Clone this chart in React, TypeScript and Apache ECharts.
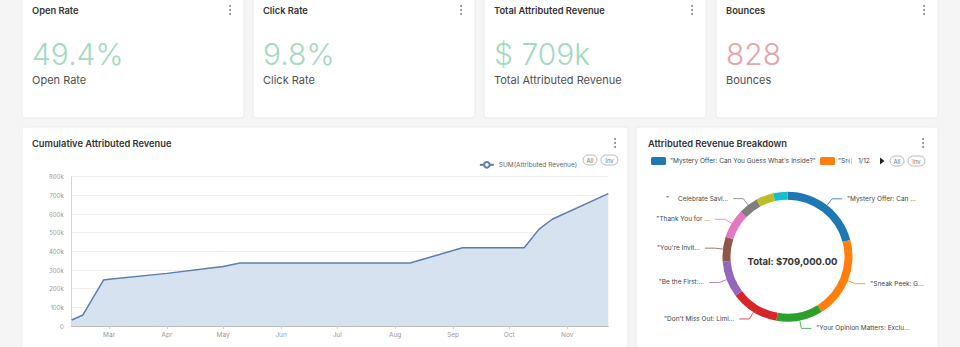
import React, { useEffect, useRef } from "react";
import * as echarts from "echarts";

const kpiTitles = ["Open Rate", "Click Rate", "Total Attributed Revenue", "Bounces"];
const kpiValues = ["49.4%", "9.8%", "$ 709k", "828"];
const kpiLabels = ["Open Rate", "Click Rate", "Total Attributed Revenue", "Bounces"];
const kpiColors = ["#a4d9bf", "#a4d9bf", "#a4d9bf", "#e7a3ab"];

const revenueDates = [
  "2023-02-09", "2023-02-15", "2023-02-26", "2023-03-01", "2023-04-01", "2023-04-20",
  "2023-05-01", "2023-05-10", "2023-08-09", "2023-09-06", "2023-10-09", "2023-10-17",
  "2023-10-24", "2023-11-23",
];
const revenueValues = [
  32000, 59000, 246000, 251000, 282000, 305000, 319000, 338000, 338000, 419000, 419000,
  519000, 572000, 709000,
];
const monthNames = ["Jan", "Feb", "Mar", "Apr", "May", "Jun", "Jul", "Aug", "Sep", "Oct", "Nov", "Dec"];

const campaignNames = [
  "\"Mystery Offer: Can You Guess What's Inside?\"",
  "\"Sneak Peek: Get Ready for Something New\"",
  "\"Your Opinion Matters: Exclusive Survey\"",
  "\"Don't Miss Out: Limited Time Offer\"",
  "\"Be the First: Early Access\"",
  "\"You're Invited: VIP Event\"",
  "\"Thank You for Being With Us\"",
  "\"Celebrate Savings Week\"",
  "\"Weekend Flash Sale\"",
  "\"Last Chance Reminder\"",
];
const campaignLabels = [
  "\"Mystery Offer: Can ...",
  "\"Sneak Peek: G...",
  "\"Your Opinion Matters: Exclu...",
  "\"Don't Miss Out: Limi...",
  "\"Be the First:...",
  "\"You're Invit...",
  "\"Thank You for ...",
  "\"{gap|}Celebrate Savi...",
  "",
  "",
];
const campaignRevenue = [148000, 144000, 82000, 85000, 64000, 44000, 51000, 35000, 31000, 25000];
const campaignColors = [
  "#1f77b4", "#ff7f0e", "#2ca02c", "#d62728", "#9467bd",
  "#8c564b", "#e377c2", "#7f7f7f", "#bcbd22", "#17becf",
];

const FONT = "Inter";

function kebab(x: number, y: number) {
  return [-4, 0, 4].map((d) => ({
    type: "circle",
    z: 10,
    shape: { cx: x, cy: y + d, r: 1 },
    style: { fill: "#8a8a8a" },
  }));
}

function pill(x: number, y: number, w: number, label: string) {
  return [
    {
      type: "rect",
      z: 10,
      shape: { x, y, width: w, height: 10, r: 5 },
      style: { fill: "#fff", stroke: "#a8a8a8", lineWidth: 0.8 },
    },
    {
      type: "text",
      z: 11,
      x: x + w / 2,
      y: y + 5,
      style: { text: label, fontSize: 6, fill: "#777", fontFamily: FONT, align: "center", verticalAlign: "middle" },
    },
  ];
}

export default function App() {
  const ref = useRef<HTMLDivElement>(null);
  useEffect(() => {
    if (!ref.current) return;
    const chart = echarts.init(ref.current, null, { renderer: "svg" });

    const cards = [
      { x: 22, y: -10, w: 222, h: 128 },
      { x: 253, y: -10, w: 222, h: 128 },
      { x: 484, y: -10, w: 222, h: 128 },
      { x: 716, y: -10, w: 222, h: 128 },
      { x: 22, y: 127, w: 606, h: 240 },
      { x: 636, y: 127, w: 302, h: 240 },
    ];
    const elements: any[] = [];
    cards.forEach((c) => {
      elements.push({
        type: "rect",
        z: -10,
        shape: { x: c.x, y: c.y, width: c.w, height: c.h, r: 3 },
        style: { fill: "#ffffff", stroke: "#ececec", lineWidth: 1 },
      });
    });
    kpiTitles.forEach((t, i) => {
      const c = cards[i];
      elements.push({
        type: "text", z: 10, x: c.x + 10, y: 10,
        style: { text: t, fontSize: 9.3, fontWeight: 600, fill: "#333", fontFamily: FONT, verticalAlign: "middle" },
      });
      elements.push({
        type: "text", z: 10, x: c.x + 10, y: 54,
        style: { text: kpiValues[i], fontSize: 30, fontWeight: 300, fill: kpiColors[i], fontFamily: FONT, verticalAlign: "middle" },
      });
      elements.push({
        type: "text", z: 10, x: c.x + 10, y: 80,
        style: { text: kpiLabels[i], fontSize: 11, fill: "#505050", fontFamily: FONT, verticalAlign: "middle" },
      });
      elements.push(...kebab(c.x + 208, 10));
    });
    elements.push({
      type: "text", z: 10, x: 32, y: 143,
      style: { text: "Cumulative Attributed Revenue", fontSize: 9.3, fontWeight: 600, fill: "#333", fontFamily: FONT, verticalAlign: "middle" },
    });
    elements.push(...kebab(615, 143));
    elements.push(...pill(583, 155, 14, "All"));
    elements.push(...pill(601, 155, 17, "Inv"));

    elements.push({
      type: "text", z: 10, x: 648, y: 143,
      style: { text: "Attributed Revenue Breakdown", fontSize: 9.3, fontWeight: 600, fill: "#333", fontFamily: FONT, verticalAlign: "middle" },
    });
    elements.push(...kebab(923, 143));
    // pie legend row
    elements.push({ type: "rect", z: 10, shape: { x: 651, y: 157, width: 15, height: 8, r: 1.5 }, style: { fill: campaignColors[0] } });
    elements.push({
      type: "text", z: 10, x: 670, y: 161,
      style: { text: campaignNames[0], fontSize: 6.5, fill: "#444", fontFamily: FONT, verticalAlign: "middle" },
    });
    elements.push({ type: "rect", z: 10, shape: { x: 820, y: 157, width: 15, height: 8, r: 1.5 }, style: { fill: campaignColors[1] } });
    elements.push({
      type: "text", z: 10, x: 838, y: 161,
      style: { text: "\"Sr", fontSize: 6.5, fill: "#444", fontFamily: FONT, verticalAlign: "middle" },
    });
    elements.push({ type: "polygon", z: 10, shape: { points: [[850, 158], [850, 164], [847, 161]] }, style: { fill: "#bbb" } });
    elements.push({ type: "line", z: 10, shape: { x1: 851.5, y1: 158, x2: 851.5, y2: 164 }, style: { stroke: "#bbb", lineWidth: 0.8 } });
    elements.push({
      type: "text", z: 10, x: 864, y: 161,
      style: { text: "1/12", fontSize: 6.5, fill: "#444", fontFamily: FONT, align: "center", verticalAlign: "middle" },
    });
    elements.push({ type: "polygon", z: 10, shape: { points: [[880, 157.5], [880, 164.5], [884.5, 161]] }, style: { fill: "#222" } });
    elements.push(...pill(890, 156, 14, "All"));
    elements.push(...pill(908, 156, 17, "Inv"));

    const option: any = {
      animation: false,
      backgroundColor: "#f5f5f5",
      textStyle: { fontFamily: FONT },
      graphic: { elements },
      legend: {
        data: ["SUM(Attributed Revenue)"],
        right: 378,
        top: 156,
        itemWidth: 14,
        itemHeight: 7,
        itemGap: 4,
        textStyle: { fontSize: 6.5, color: "#666", fontFamily: FONT },
      },
      grid: { left: 71.7, right: 351.7, top: 176.7, bottom: 21, containLabel: false },
      xAxis: {
        type: "time",
        min: new Date(revenueDates[0]).getTime(),
        max: new Date(revenueDates[revenueDates.length - 1]).getTime(),
        splitNumber: 10,
        axisLine: { lineStyle: { color: "#bbb" } },
        axisTick: { show: true, length: 3, lineStyle: { color: "#ccc" } },
        splitLine: { show: false },
        axisLabel: {
          fontSize: 6.5,
          color: "#999",
          margin: 5,
          showMinLabel: false,
          showMaxLabel: false,
          formatter: (v: number) => monthNames[new Date(v).getMonth()],
        },
      },
      yAxis: {
        type: "value",
        min: 0,
        max: 800000,
        interval: 100000,
        axisLine: { show: true, lineStyle: { color: "#ccc", type: "dotted" } },
        axisTick: { show: false },
        splitLine: { lineStyle: { color: "#eeeeee" } },
        axisLabel: {
          fontSize: 6,
          color: "#999",
          margin: 8,
          formatter: (v: number) => (v === 0 ? "0" : v / 1000 + "k"),
        },
      },
      series: [
        {
          name: "SUM(Attributed Revenue)",
          type: "line",
          data: revenueDates.map((d, i) => [new Date(d).getTime(), revenueValues[i]]),
          showSymbol: false,
          symbol: "emptyCircle",
          symbolSize: 6,
          color: "#5b7fa9",
          lineStyle: { color: "#5b7fa9", width: 1.5 },
          areaStyle: { color: "#d6e2ef", opacity: 1 },
        },
        {
          name: "Attributed Revenue Breakdown",
          type: "pie",
          center: [787.5, 256.7],
          radius: [57, 65],
          startAngle: 90,
          avoidLabelOverlap: true,
          data: campaignNames.map((n, i) => ({
            name: n,
            value: campaignRevenue[i],
            itemStyle: { color: campaignColors[i] },
            label: { show: campaignLabels[i] !== "" },
            labelLine: { show: campaignLabels[i] !== "" },
          })),
          label: {
            show: true,
            position: "outside",
            fontSize: 6.5,
            color: "#444",
            fontFamily: FONT,
            formatter: (p: any) => campaignLabels[p.dataIndex],
            rich: { gap: { width: 9 } },
          },
          labelLine: { length: 8, length2: 10, lineStyle: { width: 0.8 } },
        },
      ],
      title: {
        text: "Total: $709,000.00",
        left: 787.5,
        top: 256.7,
        textAlign: "center",
        textVerticalAlign: "middle",
        textStyle: { fontSize: 9.5, fontWeight: "bold", color: "#333", fontFamily: FONT },
      },
    };
    chart.setOption(option);
    return () => chart.dispose();
  }, []);
  return <div ref={ref} style={{ position: "absolute", left: 0, top: 0, width: 960, height: 347 }} />;
}
